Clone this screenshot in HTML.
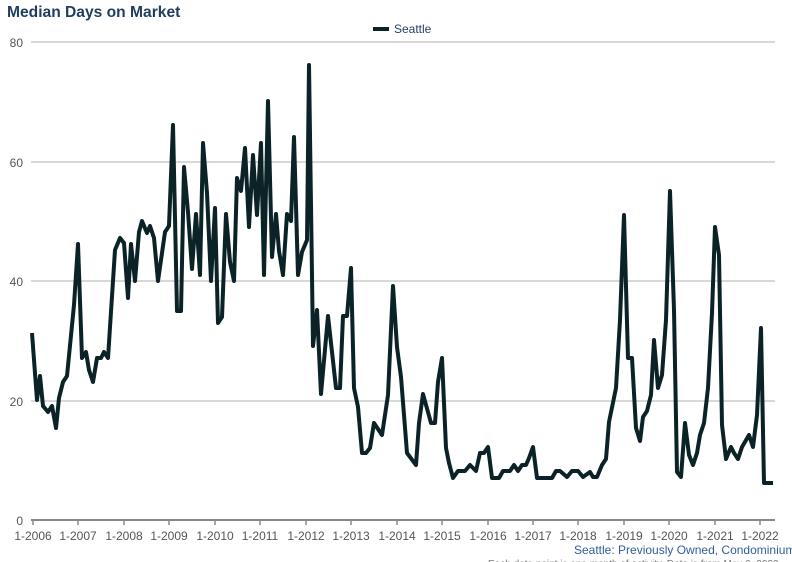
<!DOCTYPE html>
<html><head><style>
body{margin:0;background:#fff;width:792px;height:562px;overflow:hidden;font-family:"Liberation Sans",sans-serif;}
</style></head><body>
<svg width="792" height="562" xmlns="http://www.w3.org/2000/svg" style="position:absolute;left:0;top:0">
<text x="7" y="17" font-size="15.6" font-weight="bold" fill="#1f3d5e" font-family="Liberation Sans">Median Days on Market</text>
<line x1="373" y1="29" x2="389" y2="29" stroke="#0b2226" stroke-width="4"/>
<text x="394" y="33" font-size="12" fill="#1f3d5e" font-family="Liberation Sans">Seattle</text>
<g stroke="#b0b0b0" stroke-width="1">
<line x1="31" y1="42" x2="775" y2="42"/>
<line x1="31" y1="162" x2="775" y2="162"/>
<line x1="31" y1="281" x2="775" y2="281"/>
<line x1="31" y1="401" x2="775" y2="401"/>
</g>
<line x1="31" y1="520" x2="775" y2="520" stroke="#888" stroke-width="2"/>
<g stroke="#888" stroke-width="1.5">
<line x1="33" y1="520" x2="33" y2="525"/><line x1="78" y1="520" x2="78" y2="525"/><line x1="124" y1="520" x2="124" y2="525"/><line x1="169" y1="520" x2="169" y2="525"/><line x1="215" y1="520" x2="215" y2="525"/><line x1="260" y1="520" x2="260" y2="525"/><line x1="306" y1="520" x2="306" y2="525"/><line x1="351" y1="520" x2="351" y2="525"/><line x1="397" y1="520" x2="397" y2="525"/><line x1="442" y1="520" x2="442" y2="525"/><line x1="488" y1="520" x2="488" y2="525"/><line x1="533" y1="520" x2="533" y2="525"/><line x1="578" y1="520" x2="578" y2="525"/><line x1="624" y1="520" x2="624" y2="525"/><line x1="669" y1="520" x2="669" y2="525"/><line x1="715" y1="520" x2="715" y2="525"/><line x1="760" y1="520" x2="760" y2="525"/>
</g>
<g font-size="12" fill="#555" font-family="Liberation Sans" text-anchor="end">
<text x="23" y="47">80</text><text x="23" y="167">60</text><text x="23" y="286">40</text><text x="23" y="406">20</text><text x="23" y="525">0</text>
</g>
<g font-size="12" fill="#555" font-family="Liberation Sans" text-anchor="middle">
<text x="33" y="540">1-2006</text><text x="78" y="540">1-2007</text><text x="124" y="540">1-2008</text><text x="169" y="540">1-2009</text><text x="215" y="540">1-2010</text><text x="260" y="540">1-2011</text><text x="306" y="540">1-2012</text><text x="351" y="540">1-2013</text><text x="397" y="540">1-2014</text><text x="442" y="540">1-2015</text><text x="488" y="540">1-2016</text><text x="533" y="540">1-2017</text><text x="578" y="540">1-2018</text><text x="624" y="540">1-2019</text><text x="669" y="540">1-2020</text><text x="715" y="540">1-2021</text><text x="760" y="540">1-2022</text>
</g>
<text x="574" y="554" font-size="12" fill="#2f5f9a" font-family="Liberation Sans">Seattle: Previously Owned, Condominium</text>
<text x="488" y="567" font-size="10" fill="#777" font-family="Liberation Sans">Each data point is one month of activity. Data is from May 6, 2022</text>
<polyline fill="none" stroke="#0b2226" stroke-width="4" stroke-linejoin="round" points="32,333 37,400 40,376 43,406 48,412 52,406 56,428 59,398 63,382 67,376 74,305 78,244 82,358 86,352 89,370 93,382 97,358 101,358 104,352 108,358 115,250 120,238 124,243 128,298 131,244 135,281 139,232 142,221 147,233 150,226 154,238 158,281 165,232 169,226 173,125 177,311 181,311 184,167 188,212 192,269 196,214 200,275 203,143 207,193 211,281 215,208 218,323 222,317 226,214 230,262 234,281 237,178 241,191 245,148 249,227 253,155 257,215 261,143 264,275 268,101 272,257 276,214 279,251 283,275 287,214 291,221 294,137 298,275 302,252 307,240 309,65 313,346 317,310 321,394 328,316 336,388 340,388 343,316 347,316 351,268 354,388 358,407 362,453 366,453 370,448 374,423 382,435 388,395 393,286 397,347 401,377 407,453 416,465 419,423 423,394 431,423 435,423 438,382 442,358 446,448 449,463 453,478 458,471 465,471 470,465 476,471 480,453 484,453 488,447 492,478 499,478 503,471 510,471 514,465 518,471 522,465 526,465 529,458 533,447 537,478 552,478 556,471 560,471 567,477 572,471 578,471 583,477 590,472 593,477 597,477 602,465 606,459 609,422 616,388 620,320 624,215 628,358 632,358 636,428 640,441 643,417 647,411 651,395 654,340 658,388 662,375 666,320 670,191 674,310 677,472 681,477 685,423 689,455 693,465 697,453 700,435 704,423 708,388 712,313 715,227 719,255 722,425 726,459 731,447 734,453 738,459 742,447 749,435 753,447 757,415 761,328 764,483 773,483"/>
</svg>
</body></html>
